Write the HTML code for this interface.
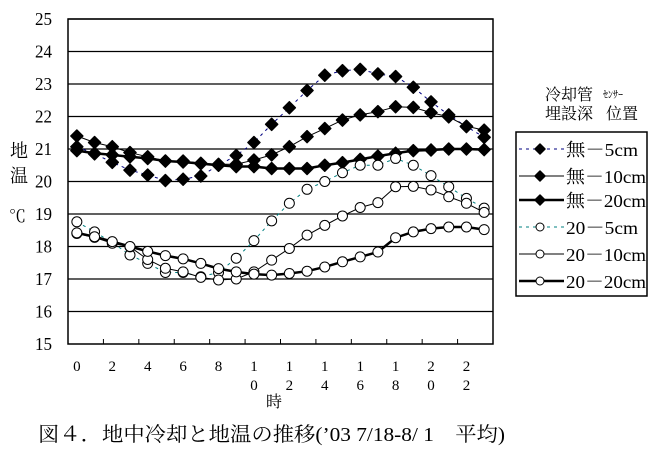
<!DOCTYPE html>
<html><head><meta charset="utf-8"><style>
html,body{margin:0;padding:0;background:#fff;}
svg{display:block;}
text{font-family:"Liberation Serif","Noto Serif CJK SC","Noto Sans CJK JP",serif;fill:#000;}
</style></head><body>
<svg id="c" width="658" height="453" xmlns="http://www.w3.org/2000/svg">
<g id="grid"></g>
<g id="series"></g>
<g font-size="17">
<text x="10" y="157" font-size="18">地</text>
<text x="10" y="182" font-size="18">温</text>
<text x="9" y="222" font-size="17">℃</text>
<text x="266" y="407" font-size="16">時</text>
<text x="38" y="441" font-size="20" textLength="467" lengthAdjust="spacingAndGlyphs">図４．地中冷却と地温の推移(’03 7/18-8/ 1　平均)</text>
<text x="545" y="100" font-size="16">冷却管</text>
<text x="545" y="119" font-size="16">埋設深</text>
<text x="603" y="98" font-size="10">ｾﾝｻｰ</text>
<text x="606" y="119" font-size="16">位置</text>
</g>
<rect x="516" y="132" width="131" height="164" fill="none" stroke="#000" stroke-width="1.5"/>
<g id="legend"></g>
</svg>
<script>
const NS="http://www.w3.org/2000/svg";
function el(p,t,a,txt){const e=document.createElementNS(NS,t);for(const k in a)e.setAttribute(k,a[k]);if(txt!==undefined)e.textContent=txt;p.appendChild(e);return e;}
const L=68,R=493,T=19,B=344;
const yv=v=>B-32.5*(v-15);
const xv=i=>L+(R-L)/24*(i+0.5);
const g=document.getElementById('grid');
for(let v=16;v<=25;v++){el(g,'line',{x1:L,x2:R,y1:yv(v),y2:yv(v),stroke:'#000','stroke-width':1.2});}
el(g,'rect',{x:L,y:T,width:R-L,height:B-T,fill:'none',stroke:'#000','stroke-width':1.5});
for(let v=15;v<=25;v++){el(g,'text',{x:52,y:yv(v)+6,'text-anchor':'end','font-size':18,textLength:17,lengthAdjust:'spacingAndGlyphs'},String(v));}
for(let k=1;k<12;k++){const x=L+(R-L)/12*k;el(g,'line',{x1:x,x2:x,y1:B-5,y2:B,stroke:'#000','stroke-width':1});}
for(let h=0;h<=22;h+=2){const x=xv(h);const s=String(h);
 if(s.length==1)el(g,'text',{x:x,y:371,'text-anchor':'middle','font-size':15},s);
 else{el(g,'text',{x:x,y:371,'text-anchor':'middle','font-size':15},s[0]);el(g,'text',{x:x,y:390,'text-anchor':'middle','font-size':15},s[1]);}}
const S=[
 {d:[21.07,20.85,20.59,20.35,20.2,20.03,20.07,20.17,20.5,20.8,21.2,21.76,22.27,22.8,23.27,23.41,23.45,23.31,23.23,22.9,22.45,22.05,21.69,21.36],c:'#000080',w:1,dash:'3,4',f:1},
 {d:[21.4,21.2,21.07,20.89,20.76,20.63,20.63,20.56,20.53,20.53,20.66,20.82,21.07,21.38,21.63,21.89,22.05,22.15,22.3,22.28,22.12,21.99,21.7,21.58],c:'#000',w:1,dash:'',f:1},
 {d:[20.95,20.87,20.82,20.76,20.71,20.63,20.6,20.55,20.5,20.46,20.46,20.4,20.4,20.4,20.5,20.58,20.68,20.78,20.87,20.95,20.97,21,21,20.98],c:'#000',w:2.5,dash:'',f:1},
 {d:[18.76,18.45,18.12,17.74,17.48,17.2,17.2,17.07,17.2,17.64,18.18,18.79,19.33,19.76,20.0,20.27,20.5,20.5,20.71,20.5,20.18,19.84,19.48,19.18],c:'#008080',w:1,dash:'3,4',f:0},
 {d:[18.4,18.28,18.1,17.99,17.6,17.33,17.22,17.05,16.97,17.0,17.22,17.58,17.94,18.35,18.65,18.94,19.2,19.35,19.84,19.85,19.74,19.53,19.33,19.05],c:'#000',w:1,dash:'',f:0},
 {d:[18.42,18.3,18.15,18.0,17.85,17.72,17.62,17.48,17.32,17.22,17.15,17.12,17.17,17.24,17.37,17.53,17.68,17.83,18.27,18.45,18.55,18.6,18.6,18.52],c:'#000',w:2.5,dash:'',f:0}
];
const sg=document.getElementById('series'),lg=document.getElementById('legend');
function mk(p,x,y,f,s){if(f)el(p,'polygon',{points:`${x},${y-s} ${x+s},${y} ${x},${y+s} ${x-s},${y}`,fill:'#000',stroke:'#000','stroke-width':1.5,'stroke-linejoin':'round'});
 else el(p,'circle',{cx:x,cy:y,r:s-1,fill:'#fff',stroke:'#000','stroke-width':1});}
const names=['無－5cm','無－10cm','無－20cm','20－5cm','20－10cm','20－20cm'];
const lens=[72,80,80,72,80,80];
const ly=[149,176,200,227,254,281];
S.forEach((s,k)=>{
 const pts=s.d.map((v,i)=>xv(i)+','+yv(v)).join(' ');
 const a={points:pts,fill:'none',stroke:s.c,'stroke-width':s.w};if(s.dash)a['stroke-dasharray']=s.dash;
 el(sg,'polyline',a);
 s.d.forEach((v,i)=>mk(sg,xv(i),yv(v),s.f,6));
 const la={x1:519,x2:564,y1:ly[k],y2:ly[k],stroke:s.c,'stroke-width':s.w};if(s.dash)la['stroke-dasharray']=s.dash;
 el(lg,'line',la);mk(lg,540,ly[k],s.f,5);
 el(lg,'text',{x:566,y:ly[k]+7,'font-size':18,textLength:lens[k],lengthAdjust:'spacingAndGlyphs'},names[k]);
});
</script>
</body></html>
